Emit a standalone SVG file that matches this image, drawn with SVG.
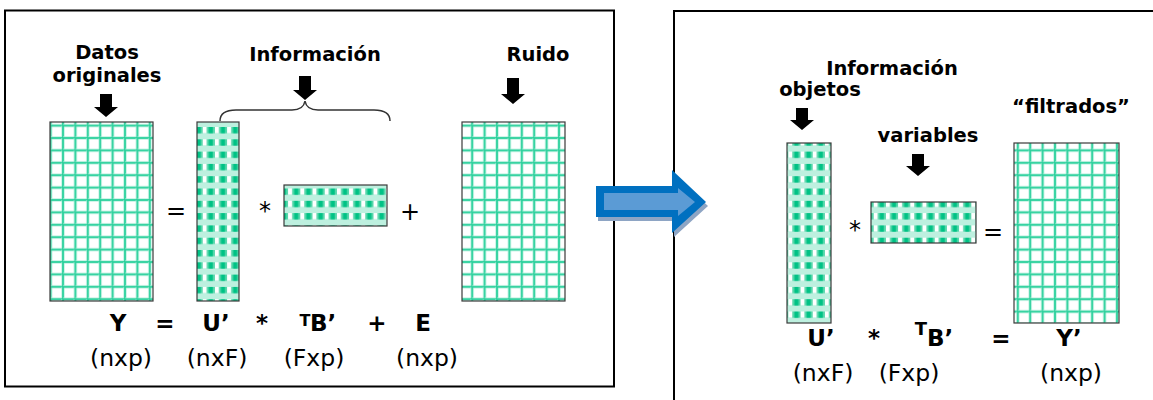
<svg xmlns="http://www.w3.org/2000/svg" width="1153" height="400" viewBox="0 0 1153 400">
  <style>
    .b { font-family: "DejaVu Sans", Verdana, sans-serif; font-weight: bold; fill: #000; }
    .r { font-family: "DejaVu Sans", Verdana, sans-serif; fill: #000; }
    .lbl { font-size: 19.5px; text-anchor: middle; }
    .eq { font-size: 23px; text-anchor: middle; }
    .dim { font-size: 23.5px; text-anchor: middle; }
    .op { font-size: 24px; text-anchor: middle; }
    .frame { fill: none; stroke: #000; stroke-width: 2; }
    .mat { stroke: #3a3a3a; stroke-width: 1.2; }
    .down { fill: #000; }
  </style>
  <defs>
    <!-- open grid: plain matrices -->
    <pattern id="grid" width="12.4" height="12.4" patternUnits="userSpaceOnUse" x="1" y="1.6">
      <rect width="12.4" height="12.4" fill="#fff"/>
      <rect x="-1.5" y="0" width="3" height="12.4" fill="#a7ecd6"/>
      <rect x="0" y="-1.5" width="12.4" height="3" fill="#a7ecd6"/>
      <rect x="-0.8" y="0" width="1.6" height="12.4" fill="#22cf98"/>
      <rect x="0" y="-0.8" width="12.4" height="1.6" fill="#22cf98"/>
      <rect x="10.9" y="0" width="3" height="12.4" fill="#a7ecd6"/>
      <rect x="0" y="10.9" width="12.4" height="3" fill="#a7ecd6"/>
      <rect x="11.6" y="0" width="1.6" height="12.4" fill="#22cf98"/>
      <rect x="0" y="11.6" width="12.4" height="1.6" fill="#22cf98"/>
    </pattern>
    <!-- checked fill: factor matrices -->
    <pattern id="check" width="12.2" height="12.3" patternUnits="userSpaceOnUse" y="4">
      <rect width="12.2" height="12.3" fill="#bdf0df"/>
      <rect y="0" width="12.2" height="6.3" fill="#55d6a9"/>
      <rect x="1.4" y="0" width="4" height="6.3" fill="#00c285"/>
      <rect x="7.5" y="0" width="4" height="6.3" fill="#fff"/>
    </pattern>
  </defs>

  <!-- panel frames -->
  <rect class="frame" x="5" y="10.5" width="609" height="376"/>
  <path class="frame" d="M674 410 V11 H1160"/>

  <!-- left panel: Y = U' * TB' + E -->
  <g id="node-Y">
    <rect class="mat" x="50" y="122" width="103" height="179" fill="url(#grid)"/>
    <text class="b lbl" x="107" y="59" font-size="19">Datos</text>
    <text class="b lbl" x="107" y="82" font-size="19">originales</text>
    <path class="down" d="M100 94 h12 v13 h6 l-12 10 l-12 -10 h6 z"/>
  </g>
  <g id="node-U">
    <rect class="mat" x="197" y="122" width="42" height="179" fill="url(#check)"/>
  </g>
  <g id="node-B">
    <rect class="mat" x="284" y="185" width="103" height="41" fill="url(#check)"/>
  </g>
  <g id="node-info">
    <text class="b lbl" x="315" y="61">Información</text>
    <path class="down" d="M299 76 h12 v14 h6 l-12 10 l-12 -10 h6 z"/>
    <path d="M220 121 C220 113 226 110 236 110 H292 C300 110 304 107 305 101 C306 107 310 110 318 110 H374 C384 110 390 113 390 121" fill="none" stroke="#333" stroke-width="1.5"/>
  </g>
  <g id="node-E">
    <rect class="mat" x="462" y="122" width="103" height="179" fill="url(#grid)"/>
    <text class="b lbl" x="538" y="61">Ruido</text>
    <path class="down" d="M507 78 h12 v16 h6 l-12 10 l-12 -10 h6 z"/>
  </g>
  <g id="ops-left">
    <text class="r op" x="176" y="219">=</text>
    <text class="r op" x="265" y="219">*</text>
    <text class="r op" x="410" y="220">+</text>
  </g>
  <g id="formula-left">
    <text class="b eq" x="118" y="331">Y</text>
    <text class="b eq" x="165" y="331">=</text>
    <text class="b eq" x="216" y="331">U’</text>
    <text class="b eq" x="262" y="331">*</text>
    <text class="b" x="305" y="325.5" font-size="16" text-anchor="middle">T</text>
    <text class="b" x="310" y="331" font-size="23">B’</text>
    <text class="b eq" x="377" y="331">+</text>
    <text class="b eq" x="423" y="331">E</text>
    <text class="r dim" x="121" y="366">(nxp)</text>
    <text class="r dim" x="217" y="366">(nxF)</text>
    <text class="r dim" x="314" y="366">(Fxp)</text>
    <text class="r dim" x="427" y="366">(nxp)</text>
  </g>

  <!-- transition arrow between panels -->
  <g id="connectors">
    <polygon points="598,190 674,190 674,174 708,206 674,237 674,221 598,221" fill="#8ea5c4"/>
    <polygon points="596,186 672,186 672,170 706,202 672,233 672,217 596,217" fill="#0070c0"/>
    <polygon points="604,193 678,193 678,188 695,202 678,216 678,210 604,210" fill="#5b9bd5"/>
  </g>

  <!-- right panel: U' * TB' = Y' -->
  <g id="node-U2">
    <rect class="mat" x="787" y="143" width="44" height="180" fill="url(#check)"/>
    <text class="b lbl" x="820" y="96">objetos</text>
    <path class="down" d="M796 108 h12 v12 h6 l-12 10 l-12 -10 h6 z"/>
  </g>
  <g id="node-info2">
    <text class="b lbl" x="892" y="75">Información</text>
  </g>
  <g id="node-B2">
    <rect class="mat" x="871" y="202" width="105" height="41" fill="url(#check)"/>
    <text class="b lbl" x="928" y="142">variables</text>
    <path class="down" d="M912 154 h12 v12 h6 l-12 10 l-12 -10 h6 z"/>
  </g>
  <g id="node-Y2">
    <rect class="mat" x="1014" y="143" width="105" height="180" fill="url(#grid)"/>
    <text class="b lbl" x="1071" y="113">“filtrados”</text>
  </g>
  <g id="ops-right">
    <text class="r op" x="855" y="238">*</text>
    <text class="r op" x="993" y="240">=</text>
  </g>
  <g id="formula-right">
    <text class="b eq" x="821" y="346">U’</text>
    <text class="b eq" x="874" y="346">*</text>
    <text class="b" x="921" y="335" font-size="18" text-anchor="middle">T</text>
    <text class="b" x="927" y="346" font-size="23">B’</text>
    <text class="b eq" x="1001" y="346">=</text>
    <text class="b eq" x="1069" y="346">Y’</text>
    <text class="r dim" x="823" y="381">(nxF)</text>
    <text class="r dim" x="909" y="381">(Fxp)</text>
    <text class="r dim" x="1071" y="381">(nxp)</text>
  </g>
</svg>
